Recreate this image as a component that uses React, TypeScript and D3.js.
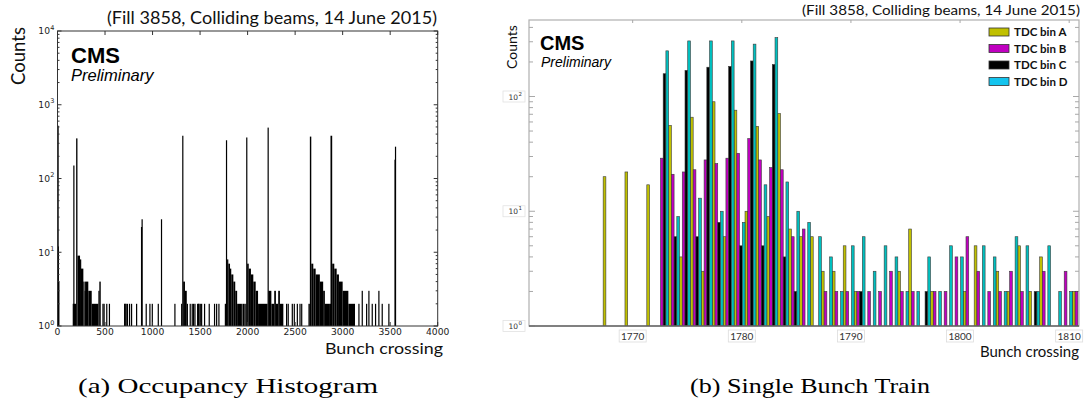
import * as d3 from "d3";

// ---- panel (a): occupancy histogram, runs of [firstBx, lastBx, counts] ----
const occRuns: [number, number, number][] = [
  [0, 1, 520], [1, 8, 12], [8, 16, 4],
  [160, 166, 2], [166, 168, 150], [168, 196, 2], [196, 210, 350], [210, 237, 9],
  [237, 247, 8], [247, 272, 6], [272, 285, 4], [285, 290, 3], [290, 324, 4],
  [324, 360, 3], [360, 430, 2], [430, 440, 3], [440, 455, 4],
  [472, 474, 2], [484, 486, 2], [512, 514, 2], [540, 543, 2],
  [700, 702, 2], [706, 708, 2], [716, 718, 2], [730, 732, 2], [752, 754, 2],
  [773, 775, 2], [826, 828, 2], [878, 880, 22], [884, 886, 28],
  [927, 929, 2], [966, 968, 2], [991, 993, 2], [1054, 1056, 2], [1088, 1090, 28],
  [1229, 1231, 2],
  [1300, 1312, 2], [1312, 1322, 380], [1322, 1341, 4], [1341, 1360, 3], [1360, 1372, 2],
  [1390, 1392, 2], [1411, 1413, 2], [1425, 1427, 2], [1440, 1442, 2], [1468, 1470, 2],
  [1478, 1480, 2], [1482, 1484, 2], [1496, 1498, 2], [1510, 1512, 2], [1541, 1543, 2],
  [1590, 1592, 2], [1646, 1648, 2], [1668, 1670, 2], [1692, 1694, 2],
  [1760, 1772, 2], [1772, 1784, 330], [1784, 1797, 8], [1797, 1815, 7], [1815, 1828, 6],
  [1828, 1850, 5], [1850, 1870, 4], [1870, 1890, 3], [1890, 1940, 2], [1945, 1970, 2],
  [1975, 1985, 2], [1985, 1995, 360], [1995, 2012, 7], [2012, 2035, 6], [2035, 2060, 5],
  [2060, 2085, 4], [2085, 2110, 3], [2110, 2210, 2],
  [2210, 2218, 490], [2218, 2250, 3], [2250, 2280, 2], [2280, 2298, 3], [2298, 2322, 2],
  [2322, 2340, 3], [2340, 2376, 2],
  [2404, 2406, 2], [2421, 2423, 2], [2464, 2466, 2], [2485, 2487, 2], [2517, 2519, 2],
  [2545, 2547, 2], [2563, 2565, 2],
  [2640, 2655, 2], [2655, 2670, 370], [2670, 2691, 7], [2691, 2716, 6], [2716, 2760, 5],
  [2760, 2795, 4], [2795, 2813, 3], [2813, 2866, 2],
  [2866, 2872, 2], [2872, 2890, 380], [2890, 2912, 7], [2912, 2937, 6], [2937, 2961, 5],
  [2961, 3000, 4], [3000, 3060, 3], [3060, 3130, 2],
  [3165, 3167, 2], [3200, 3202, 3], [3246, 3248, 2], [3270, 3272, 3], [3305, 3307, 2],
  [3340, 3342, 2], [3375, 3377, 3], [3410, 3412, 2], [3480, 3482, 2],
  [3545, 3550, 180], [3550, 3560, 270],
];
const occXTicks = [0, 500, 1000, 1500, 2000, 2500, 3000, 3500, 4000];
const occYExps = [0, 1, 2, 3, 4];

// ---- panel (b): single bunch train, counts per TDC bin ----
const bunchCrossings = [
  1767, 1768, 1769, 1770, 1771, 1772, 1773, 1774, 1775, 1776, 1777, 1778, 1779, 1780, 1781,
  1782, 1783, 1784, 1785, 1786, 1787, 1788, 1789, 1790, 1791, 1792, 1793, 1794, 1795, 1796,
  1797, 1798, 1799, 1800, 1801, 1802, 1803, 1804, 1805, 1806, 1807, 1808, 1809, 1810,
];
const tdcA = [
  20, 0, 22, 0, 17, 0, 56, 4, 66, 3, 90, 6, 76, 10, 55, 9, 71, 7, 6, 6, 3, 3, 5, 2, 0, 0, 0, 3, 7,
  0, 2, 0, 0, 2, 5, 0, 3, 2, 5, 2, 4, 0, 0, 2,
];
const tdcB = [
  0, 0, 0, 0, 0, 29, 21, 22, 23, 28, 26, 29, 32, 43, 28, 24, 23, 6, 7, 0, 2, 2, 2, 2, 2, 2, 3, 2,
  2, 0, 2, 2, 4, 6, 3, 2, 2, 3, 2, 0, 3, 0, 3, 2,
];
const tdcC = [
  0, 0, 0, 0, 0, 158, 6, 169, 6, 180, 8, 183, 5, 204, 5, 190, 4, 2, 0, 0, 0, 0, 0, 2, 0, 0, 0, 0,
  0, 2, 0, 0, 0, 0, 0, 0, 0, 0, 0, 2, 0, 0, 0, 0,
];
const tdcD = [
  0, 0, 0, 0, 0, 250, 9, 305, 13, 305, 10, 305, 8, 286, 17, 326, 18, 10, 8, 6, 4, 2, 5, 6, 3, 5,
  4, 2, 2, 4, 2, 5, 4, 0, 5, 4, 2, 6, 5, 2, 5, 2, 2, 0,
];
const tdcNames = ["TDC bin A", "TDC bin B", "TDC bin C", "TDC bin D"];
const trainXTicks = [1770, 1780, 1790, 1800, 1810];
const trainYExps = [0, 1, 2];

const tdcSeries = [tdcA, tdcB, tdcC, tdcD];
const tdcColors = ["#c0c000", "#c000c0", "#000000", "#00c0c0"];
const legendColors = ["#c0c000", "#c000c0", "#000000", "#14c4ee"];
const tdcOffsets = [0.42, 0.67, 0.92, 1.17];

const sans = "'Liberation Sans', Arial, sans-serif";
const calib = "Lato, 'Open Sans', sans-serif";
const serif = "'Liberation Serif', 'DejaVu Serif', serif";

function OccupancyPanel() {
  const left = 57.5, right = 437.7, top = 31, bottom = 326;
  const x = d3.scaleLinear().domain([0, 4000]).range([left, right]);
  const y = d3.scaleLog().domain([1, 1e4]).range([bottom, top]);
  const minor: number[] = [];
  for (let e = 0; e < 4; e++) for (let m = 2; m < 10; m++) minor.push(m * 10 ** e);

  return (
    <g>
      <defs>
        <clipPath id="clipA">
          <rect x={left} y={top} width={right - left} height={bottom - top} />
        </clipPath>
      </defs>
      <g clipPath="url(#clipA)">
        {occRuns.map(([a, b, c], i) => {
          const x0 = x(a);
          const w = Math.max(x(b) - x0, 1.2);
          return <rect key={i} x={x0} y={y(c)} width={w} height={y(1) - y(c)} fill="#000" />;
        })}
      </g>
      <rect x={left} y={top} width={right - left} height={bottom - top} fill="none" stroke="#333" strokeWidth={1} />
      {occXTicks.map((t) => (
        <g key={t}>
          <line x1={x(t)} x2={x(t)} y1={top} y2={top + 4} stroke="#333" />
          <line x1={x(t)} x2={x(t)} y1={bottom} y2={bottom - 4} stroke="#333" />
          <text x={x(t)} y={335} textAnchor="middle" fontFamily="'DejaVu Sans', sans-serif" fontSize={9.2} fill="#222">
            {t}
          </text>
        </g>
      ))}
      {occYExps.map((e) => (
        <g key={e}>
          <line x1={left} x2={left + 4} y1={y(10 ** e)} y2={y(10 ** e)} stroke="#333" />
          <line x1={right} x2={right - 4} y1={y(10 ** e)} y2={y(10 ** e)} stroke="#333" />
          <text x={50} y={y(10 ** e) + 3.3} textAnchor="end" fontFamily="'DejaVu Sans', sans-serif" fontSize={9.2} fill="#222">
            10
          </text>
          <text x={50.3} y={y(10 ** e) - 1.5} fontFamily="'DejaVu Sans', sans-serif" fontSize={6.5} fill="#222">
            {e}
          </text>
        </g>
      ))}
      {minor.map((m) => (
        <g key={m}>
          <line x1={left} x2={left + 2} y1={y(m)} y2={y(m)} stroke="#333" />
          <line x1={right} x2={right - 2} y1={y(m)} y2={y(m)} stroke="#333" />
        </g>
      ))}
      <text x={107} y={24} fontFamily={calib} fontSize={17.5} textLength={330} lengthAdjust="spacingAndGlyphs" fill="#111">
        (Fill 3858, Colliding beams, 14 June 2015)
      </text>
      <text transform="translate(25,56) rotate(-90)" textAnchor="middle" fontFamily={calib} fontSize={18.5} fill="#111">
        Counts
      </text>
      <text x={325} y={354} fontFamily={calib} fontSize={16} textLength={118} lengthAdjust="spacingAndGlyphs" fill="#111">
        Bunch crossing
      </text>
      <text x={71} y={62.5} fontFamily={sans} fontWeight="bold" fontSize={22} fill="#000">
        CMS
      </text>
      <text x={71} y={81} fontFamily={sans} fontStyle="italic" fontSize={16.5} fill="#000">
        Preliminary
      </text>
      <text x={78} y={393} fontFamily={serif} fontSize={22} textLength={300} lengthAdjust="spacingAndGlyphs" fill="#000">
        (a) Occupancy Histogram
      </text>
    </g>
  );
}

function TrainPanel() {
  const left = 529, right = 1079, top = 20, bottom = 326;
  const x = d3.scaleLinear().domain([1760.5, 1810.9]).range([left, right]);
  const y = d3.scaleLog().domain([1, 100]).range([bottom, 96.5]);
  const bw = x(1761) - x(1760.75);
  const minor: number[] = [];
  for (let e = 0; e < 3; e++) for (let m = 2; m < 10; m++) minor.push(m * 10 ** e);
  const topVal = y.invert(top);

  return (
    <g>
      <defs>
        <clipPath id="clipB">
          <rect x={left} y={top} width={right - left} height={bottom - top} />
        </clipPath>
      </defs>
      <rect x={left} y={top} width={right - left} height={bottom - top} fill="#fff" stroke="#b0b0b0" strokeWidth={1.2} />
      {minor.filter((m) => m < topVal).map((m) => (
        <g key={m}>
          <line x1={left} x2={left + 4} y1={y(m)} y2={y(m)} stroke="#a8a8a8" />
          <line x1={right} x2={right - 4} y1={y(m)} y2={y(m)} stroke="#a8a8a8" />
        </g>
      ))}
      {trainYExps.map((e) => (
        <g key={e}>
          <line x1={left} x2={left + 6} y1={y(10 ** e)} y2={y(10 ** e)} stroke="#a8a8a8" />
          <line x1={right} x2={right - 6} y1={y(10 ** e)} y2={y(10 ** e)} stroke="#a8a8a8" />
          <rect x={503} y={y(10 ** e) - 5.5} width={22} height={11} fill="#fff" stroke="#e2e2e2" strokeWidth={0.8} />
          <text x={518} y={y(10 ** e) + 3} textAnchor="end" fontFamily="'DejaVu Sans', sans-serif" fontSize={7.5} fill="#333">
            10
          </text>
          <text x={518.4} y={y(10 ** e) - 1} fontFamily="'DejaVu Sans', sans-serif" fontSize={5.5} fill="#333">
            {e}
          </text>
        </g>
      ))}
      <g clipPath="url(#clipB)">
        {tdcSeries.map((vals, si) =>
          vals.map((v, j) =>
            v > 1 ? (
              <rect
                key={`${si}-${j}`}
                x={x(bunchCrossings[j] + tdcOffsets[si]) - bw / 2}
                y={y(v)}
                width={bw}
                height={y(1) - y(v)}
                fill={tdcColors[si]}
                stroke="#3a3a3a"
                strokeWidth={0.6}
              />
            ) : null
          )
        )}
      </g>
      <line x1={left} x2={right} y1={bottom} y2={bottom} stroke="#666" strokeWidth={1.5} />
      {trainXTicks.map((t) => (
        <g key={t}>
          <line x1={x(t)} x2={x(t)} y1={top} y2={top + 3} stroke="#a8a8a8" />
          <rect x={x(t) - 13.5} y={330} width={27} height={12} fill="#fff" stroke="#dcdcdc" strokeWidth={0.8} />
          <text x={x(t)} y={340} textAnchor="middle" fontFamily={calib} fontSize={10} fill="#333">
            {t}
          </text>
        </g>
      ))}
      {tdcNames.map((name, i) => (
        <g key={name}>
          <rect x={989} y={28 + i * 16.5} width={20} height={8} fill={legendColors[i]} stroke="#333" strokeWidth={0.8} />
          <text x={1014} y={36.2 + i * 16.5} fontFamily={calib} fontWeight="bold" fontSize={11.5} fill="#111">
            {name}
          </text>
        </g>
      ))}
      <text x={802} y={14.5} fontFamily={calib} fontSize={14} textLength={278} lengthAdjust="spacingAndGlyphs" fill="#111">
        (Fill 3858, Colliding beams, 14 June 2015)
      </text>
      <text transform="translate(517,47) rotate(-90)" textAnchor="middle" fontFamily={calib} fontSize={14} fill="#111">
        Counts
      </text>
      <text x={980} y={357} fontFamily={calib} fontSize={15} textLength={99} lengthAdjust="spacingAndGlyphs" fill="#111">
        Bunch crossing
      </text>
      <text x={540} y={50} fontFamily={sans} fontWeight="bold" fontSize={20} fill="#000">
        CMS
      </text>
      <text x={541} y={67} fontFamily={sans} fontStyle="italic" fontSize={14} fill="#000">
        Preliminary
      </text>
      <text x={690} y={393} fontFamily={serif} fontSize={22} textLength={240} lengthAdjust="spacingAndGlyphs" fill="#000">
        (b) Single Bunch Train
      </text>
    </g>
  );
}

export default function App() {
  return (
    <div>
      <style>{`body{margin:0;background:#fff}`}</style>
      <svg width={1084} height={405} style={{ display: "block" }}>
        <rect width={1084} height={405} fill="#fff" />
        <OccupancyPanel />
        <TrainPanel />
      </svg>
    </div>
  );
}
